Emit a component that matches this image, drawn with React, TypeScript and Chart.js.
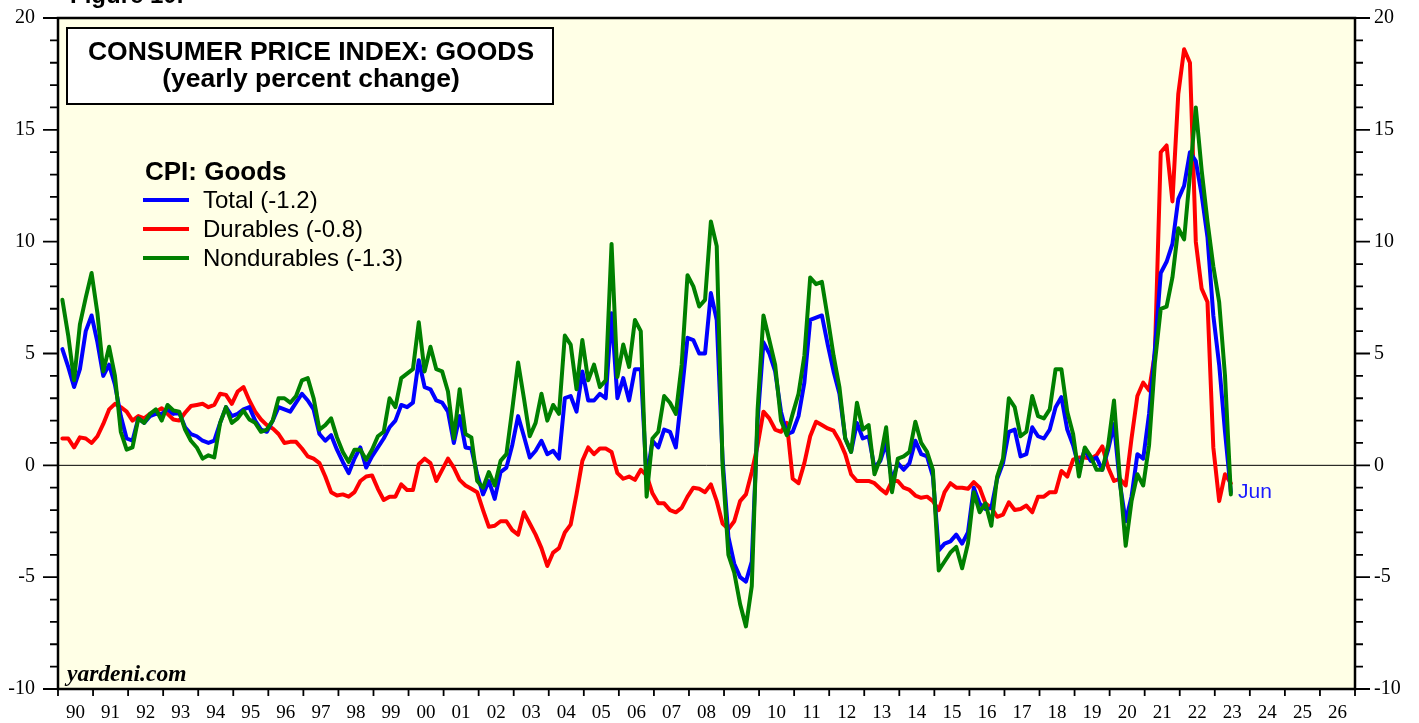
import React, { useEffect, useRef } from "react";
import { Chart, registerables } from "chart.js";

Chart.register(...registerables);

// Observations every two months (Feb, Apr, Jun, Aug, Oct, Dec), Feb 1990 .. Jun 2023
const START_YEAR = 1990;
const OBS_MONTHS = [2, 4, 6, 8, 10, 12];

const totalGoods = [
  5.2, 4.4, 3.5, 4.3, 6.0, 6.7,
  5.5, 4.0, 4.5, 3.6, 2.2, 1.2,
  1.1, 2.1, 1.9, 2.2, 2.3, 2.3,
  2.5, 2.3, 2.35, 1.7, 1.4, 1.3,
  1.1, 1.0, 1.1, 1.9, 2.6, 2.2,
  2.3, 2.5, 2.6, 2.0, 1.6, 1.5,
  2.0, 2.6, 2.5, 2.4, 2.8, 3.2,
  2.9, 2.5, 1.4, 1.1, 1.35, 0.7,
  0.15, -0.35, 0.3, 0.8, -0.1, 0.4,
  0.8, 1.2, 1.7, 2.0, 2.7, 2.6,
  2.8, 4.7, 3.5, 3.4, 2.9, 2.8,
  2.4, 1.0, 2.2, 0.8, 0.75, -0.4,
  -1.3, -0.7, -1.5, -0.3, -0.1, 0.9,
  2.2, 1.3, 0.35, 0.65, 1.1, 0.5,
  0.65, 0.3, 3.0, 3.1, 2.4, 4.2,
  2.9, 2.9, 3.2, 3.0, 6.8, 3.0,
  3.9, 2.9, 4.3, 4.3, -0.6, 1.1,
  0.8, 1.6, 1.5, 0.8, 3.2, 5.7,
  5.6, 5.0, 5.0, 7.7, 6.5, 0.3,
  -3.2, -4.4, -5.0, -5.2, -4.3, 2.0,
  5.5, 5.0, 4.2, 2.4, 1.4, 1.5,
  2.2, 3.7, 6.5, 6.6, 6.7, 5.4,
  4.2, 3.2, 1.2, 0.6, 1.9, 1.2,
  1.3, -0.1, 0.2, 1.0, -0.7, 0.1,
  -0.2, 0.1, 1.1, 0.5, 0.4, -0.5,
  -3.8, -3.5, -3.4, -3.1, -3.5, -3.0,
  -1.0, -1.7, -1.95, -1.9, -0.6, 0.1,
  1.5, 1.6, 0.4, 0.5, 1.7, 1.3,
  1.2, 1.6, 2.6, 3.05, 1.6, 0.9,
  -0.1, 0.7, 0.2, 0.35, -0.2, 0.7,
  1.85, -0.8, -2.5, -1.4, 0.5, 0.3,
  2.3, 5.2, 8.6, 9.1, 9.9, 11.9,
  12.5, 14.0, 13.6, 12.1, 10.2, 6.7,
  4.5, 1.5, -1.2,
];

const durables = [
  1.2, 1.2, 0.8, 1.25, 1.2, 1.0,
  1.3, 1.85, 2.5, 2.75, 2.6, 2.4,
  2.0, 2.2, 2.1, 2.3, 2.4, 2.55,
  2.3, 2.05, 2.0, 2.35, 2.65, 2.7,
  2.75, 2.6, 2.7, 3.2, 3.15, 2.75,
  3.3, 3.5, 2.9, 2.4, 2.05, 1.8,
  1.65, 1.4, 1.0, 1.05, 1.05, 0.75,
  0.4, 0.3, 0.1, -0.5, -1.2, -1.35,
  -1.3, -1.4, -1.2, -0.7, -0.5, -0.45,
  -1.05, -1.55, -1.4, -1.4, -0.85, -1.1,
  -1.1, 0.05, 0.3, 0.1, -0.7, -0.2,
  0.3, -0.1, -0.65, -0.9, -1.05, -1.2,
  -2.0, -2.75, -2.7, -2.5, -2.5, -2.9,
  -3.1, -2.1, -2.6, -3.1, -3.7, -4.5,
  -3.9, -3.7, -3.0, -2.65, -1.3, 0.2,
  0.8, 0.5, 0.75, 0.75, 0.6, -0.35,
  -0.6, -0.5, -0.65, -0.2, -0.45, -1.25,
  -1.7, -1.7, -2.0, -2.1, -1.9, -1.4,
  -1.0, -1.05, -1.2, -0.85, -1.6, -2.6,
  -2.85, -2.5, -1.6, -1.3, -0.3, 0.9,
  2.4, 2.1, 1.6, 1.5, 1.9, -0.6,
  -0.8, 0.1, 1.3, 1.95, 1.8, 1.65,
  1.55, 1.1, 0.5, -0.4, -0.7, -0.7,
  -0.7, -0.8, -1.05, -1.25, -0.7, -0.7,
  -1.0, -1.1, -1.35, -1.45, -1.4, -1.6,
  -2.0, -1.2, -0.8, -1.0, -1.0, -1.05,
  -0.75, -1.0, -1.7, -1.9, -2.3, -2.2,
  -1.65, -2.0, -1.95, -1.8, -2.1, -1.4,
  -1.4, -1.2, -1.2, -0.25, -0.5, 0.25,
  0.35, 0.35, 0.3, 0.45, 0.85, -0.1,
  -0.7, -0.6, -0.9, 1.2, 3.1, 3.7,
  3.35, 5.0, 14.0, 14.3, 11.8, 16.6,
  18.6, 18.0, 10.0, 7.9, 7.3, 0.8,
  -1.6, -0.4, -0.8,
];

const nondurables = [
  7.4, 5.8, 3.8, 6.3, 7.5, 8.6,
  6.8, 4.2, 5.3, 4.0, 1.5, 0.7,
  0.8, 2.1, 1.9, 2.3, 2.5, 2.0,
  2.7, 2.45, 2.4, 1.6, 1.1, 0.8,
  0.3, 0.45, 0.35, 1.9, 2.6, 1.9,
  2.1, 2.45, 2.05, 1.9, 1.5, 1.6,
  2.0, 3.0, 3.0, 2.8, 3.1, 3.8,
  3.9, 3.0, 1.6, 1.8, 2.1, 1.25,
  0.6, 0.15, 0.7, 0.7, 0.25, 0.7,
  1.3, 1.5, 3.0, 2.6, 3.9, 4.1,
  4.3, 6.4, 4.2, 5.3, 4.3, 4.2,
  3.3, 1.2, 3.4, 1.4, 1.25, -0.7,
  -1.0, -0.3, -0.9, 0.2, 0.5, 2.5,
  4.6, 3.0, 1.3, 1.9, 3.2, 2.0,
  2.7, 2.3, 5.8, 5.4, 3.4, 5.6,
  3.8, 4.5, 3.5, 3.8, 9.9, 3.95,
  5.4, 4.4, 6.5, 6.0, -1.4, 1.2,
  1.5, 3.1, 2.8, 2.3, 4.5, 8.5,
  8.0, 7.1, 7.4, 10.9, 9.8, 0.0,
  -4.0, -4.8, -6.2, -7.2, -5.4, 2.5,
  6.7, 5.6, 4.5, 2.0, 1.35, 2.3,
  3.2, 4.9, 8.4, 8.1, 8.2, 6.6,
  4.9, 3.5, 1.2, 0.6, 2.8, 1.6,
  1.8, -0.4, 0.3, 1.7, -1.2, 0.3,
  0.4, 0.6, 1.95, 1.0, 0.6, -0.2,
  -4.7, -4.3, -3.9, -3.65, -4.6, -3.5,
  -1.2, -2.1, -1.7, -2.7, -0.5, 0.3,
  3.0, 2.6, 1.3, 1.5, 3.1, 2.2,
  2.1, 2.5, 4.3, 4.3, 2.4, 1.4,
  -0.5, 0.8, 0.4, -0.2, -0.2, 0.9,
  2.9, -0.6, -3.6, -1.6, -0.4, -0.9,
  0.9, 4.6, 7.0, 7.1, 8.4, 10.6,
  10.1, 13.0, 16.0, 13.2, 10.9, 8.9,
  7.3, 4.0, -1.3,
];

const X_LABELS = [
  "90", "91", "92", "93", "94", "95", "96", "97", "98", "99",
  "00", "01", "02", "03", "04", "05", "06", "07", "08", "09",
  "10", "11", "12", "13", "14", "15", "16", "17", "18", "19",
  "20", "21", "22", "23", "24", "25", "26",
];
const Y_TICKS = [-10, -5, 0, 5, 10, 15, 20];
const SERIES_NAMES = ["Total (-1.2)", "Durables (-0.8)", "Nondurables (-1.3)"];
const SERIES_COLORS = ["#0000FF", "#FF0000", "#008000"];
const TITLE_LINES = ["CONSUMER PRICE INDEX: GOODS", "(yearly percent change)"];
const LEGEND_TITLE = "CPI: Goods";
const LAST_LABEL = "Jun";

function obsDate(i: number): number {
  const year = START_YEAR + Math.floor(i / 6);
  const month = OBS_MONTHS[i % 6];
  return year + (month - 0.5) / 12;
}

function toPoints(values: number[]) {
  return values.map((v, i) => ({ x: obsDate(i), y: v }));
}

const SANS = '"Liberation Sans", Arial, Helvetica, sans-serif';
const SERIF = '"Liberation Serif", "Times New Roman", serif';

function zeroPadding(s: any) {
  s.paddingTop = 0;
  s.paddingBottom = 0;
  s.paddingLeft = 0;
  s.paddingRight = 0;
}

const decorPlugin = {
  id: "decor",
  beforeDraw(chart: any) {
    const { ctx, chartArea: a } = chart;
    ctx.save();
    ctx.fillStyle = "#FFFFFF";
    ctx.fillRect(0, 0, chart.width, chart.height);
    ctx.fillStyle = "#FFFFE6";
    ctx.fillRect(a.left, a.top, a.right - a.left, a.bottom - a.top);
    ctx.restore();
  },
  beforeDatasetsDraw(chart: any) {
    const { ctx, chartArea: a, scales } = chart;
    const y0 = scales.y.getPixelForValue(0);
    ctx.save();
    ctx.strokeStyle = "#000";
    ctx.lineWidth = 1;
    ctx.beginPath();
    ctx.moveTo(a.left, y0);
    ctx.lineTo(a.right, y0);
    ctx.stroke();
    ctx.restore();
  },
  afterDatasetsDraw(chart: any) {
    const { ctx, chartArea: a, scales } = chart;
    ctx.save();
    // frame
    ctx.strokeStyle = "#000";
    ctx.lineWidth = 2.5;
    ctx.strokeRect(a.left, a.top, a.right - a.left, a.bottom - a.top);

    // y tick marks (left & right)
    ctx.lineWidth = 1.8;
    ctx.beginPath();
    for (let v = -10; v <= 20; v++) {
      const py = scales.y.getPixelForValue(v);
      const len = v % 5 === 0 ? 15 : 8;
      ctx.moveTo(a.left - len, py);
      ctx.lineTo(a.left, py);
      ctx.moveTo(a.right, py);
      ctx.lineTo(a.right + len, py);
    }
    // x tick marks at year boundaries
    for (let yr = 1990; yr <= 2027; yr++) {
      const px = scales.x.getPixelForValue(yr);
      ctx.moveTo(px, a.bottom);
      ctx.lineTo(px, a.bottom + 7);
    }
    ctx.stroke();

    // title box
    ctx.fillStyle = "#FFFFFF";
    ctx.fillRect(67, 28, 486, 76);
    ctx.lineWidth = 2;
    ctx.strokeRect(67, 28, 486, 76);
    ctx.fillStyle = "#000";
    ctx.textAlign = "center";
    ctx.textBaseline = "alphabetic";
    ctx.font = `bold 26.5px ${SANS}`;
    ctx.fillText(TITLE_LINES[0], 311, 60);
    ctx.fillText(TITLE_LINES[1], 311, 87);

    // legend
    ctx.textAlign = "left";
    ctx.font = `bold 26px ${SANS}`;
    ctx.fillText(LEGEND_TITLE, 145, 180);
    ctx.font = `24px ${SANS}`;
    ctx.textBaseline = "middle";
    SERIES_NAMES.forEach((name, i) => {
      const y = 200 + i * 29;
      ctx.strokeStyle = SERIES_COLORS[i];
      ctx.lineWidth = 4;
      ctx.beginPath();
      ctx.moveTo(143, y);
      ctx.lineTo(189, y);
      ctx.stroke();
      ctx.fillStyle = "#000";
      ctx.fillText(name, 203, y + 1);
    });

    // watermark
    ctx.font = `italic bold 23.5px ${SERIF}`;
    ctx.fillStyle = "#000";
    ctx.textBaseline = "alphabetic";
    ctx.fillText("yardeni.com", 67, 681);

    // last-month label
    ctx.font = `21px ${SANS}`;
    ctx.fillStyle = "#1a1aff";
    ctx.textBaseline = "middle";
    ctx.fillText(LAST_LABEL, 1238, 492);

    // clipped figure caption at very top
    ctx.font = `bold 24px ${SANS}`;
    ctx.fillStyle = "#000";
    ctx.textBaseline = "alphabetic";
    ctx.fillText("Figure 10.", 70, 3);
    ctx.restore();
  },
};

export default function App() {
  const canvasRef = useRef<HTMLCanvasElement | null>(null);

  useEffect(() => {
    if (!canvasRef.current) return;
    const chart = new Chart(canvasRef.current, {
      type: "line",
      data: {
        datasets: [
          {
            label: SERIES_NAMES[2],
            data: toPoints(nondurables),
            borderColor: SERIES_COLORS[2],
            order: 0,
          },
          {
            label: SERIES_NAMES[0],
            data: toPoints(totalGoods),
            borderColor: SERIES_COLORS[0],
            order: 1,
          },
          {
            label: SERIES_NAMES[1],
            data: toPoints(durables),
            borderColor: SERIES_COLORS[1],
            order: 2,
          },
        ],
      },
      options: {
        animation: false,
        responsive: true,
        maintainAspectRatio: false,
        parsing: false,
        layout: { padding: { top: 18, left: 0, right: 0, bottom: 0 } },
        plugins: {
          legend: { display: false },
          tooltip: { enabled: false },
          title: { display: false },
        },
        elements: {
          point: { radius: 0 },
          line: { borderWidth: 4, tension: 0, borderJoinStyle: "round", borderCapStyle: "round" },
        },
        scales: {
          x: {
            type: "linear",
            min: 1990,
            max: 2027,
            grid: { display: false, drawTicks: false },
            border: { display: false },
            afterBuildTicks: (s: any) => {
              s.ticks = X_LABELS.map((_, i) => ({ value: 1990.5 + i }));
            },
            ticks: {
              autoSkip: false,
              maxRotation: 0,
              font: { family: SERIF, size: 19 },
              color: "#000",
              padding: 13,
              callback: (_v: any, i: number) => X_LABELS[i],
            },
            afterFit: (s: any) => {
              s.height = 34;
              zeroPadding(s);
            },
          },
          y: {
            type: "linear",
            position: "left",
            min: -10,
            max: 20,
            grid: { display: false, drawTicks: false },
            border: { display: false },
            afterBuildTicks: (s: any) => {
              s.ticks = Y_TICKS.map((v) => ({ value: v }));
            },
            ticks: { font: { family: SERIF, size: 20 }, color: "#000", padding: 23 },
            afterFit: (s: any) => {
              s.width = 58;
              zeroPadding(s);
            },
          },
          y2: {
            type: "linear",
            position: "right",
            min: -10,
            max: 20,
            grid: { display: false, drawTicks: false },
            border: { display: false },
            afterBuildTicks: (s: any) => {
              s.ticks = Y_TICKS.map((v) => ({ value: v }));
            },
            ticks: { font: { family: SERIF, size: 20 }, color: "#000", padding: 19 },
            afterFit: (s: any) => {
              s.width = 64;
              zeroPadding(s);
            },
          },
        },
      } as any,
      plugins: [decorPlugin],
    });
    return () => chart.destroy();
  }, []);

  return (
    <div style={{ position: "fixed", left: 0, top: 0, width: 1419, height: 723, background: "#fff" }}>
      <canvas ref={canvasRef} />
    </div>
  );
}
